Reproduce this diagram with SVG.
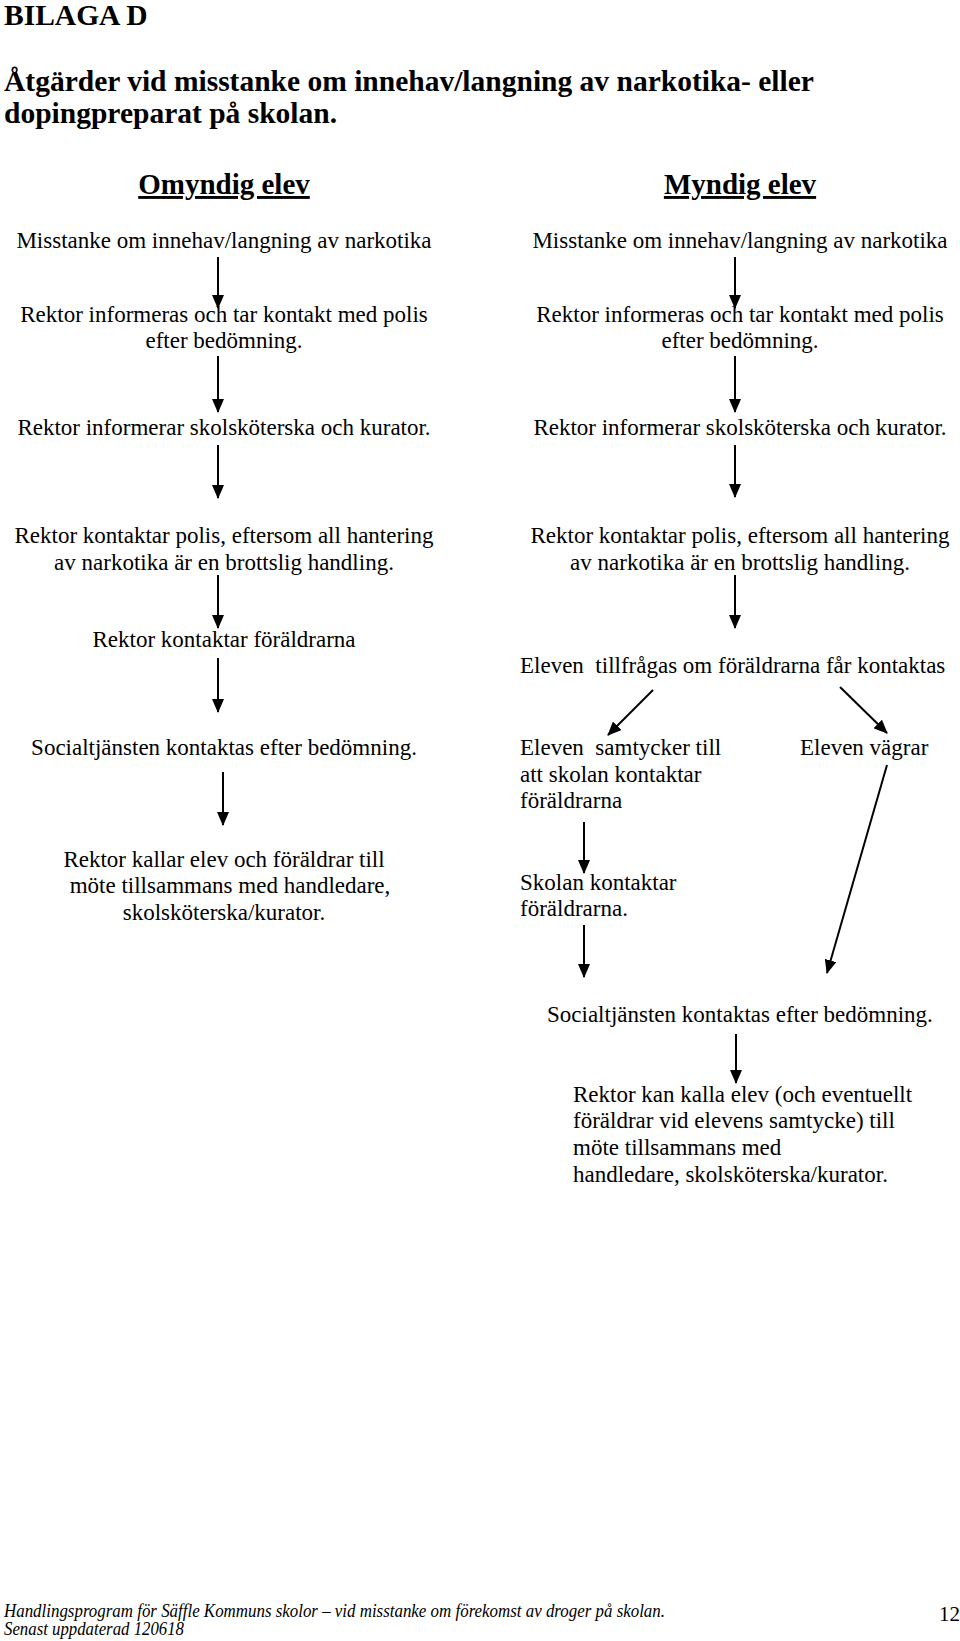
<svg xmlns="http://www.w3.org/2000/svg" width="960" height="1641" viewBox="0 0 960 1641">
<style>
  text { font-family: "Liberation Serif", "Times New Roman", serif; fill: #000; }
  .h { font-weight: bold; font-size: 29.5px; }
  .hc { font-weight: bold; font-size: 29px; }
  .u { text-decoration: underline; }
  .t { font-size: 23px; }
  .c { text-anchor: middle; }
  .f { font-size: 18px; font-style: italic; }
  .pg { font-size: 21px; }
  .conn line { stroke: #000; stroke-width: 2; marker-end: url(#ah); }
</style>
<defs>
  <marker id="ah" markerUnits="userSpaceOnUse" markerWidth="14" markerHeight="12" refX="13" refY="6" orient="auto" viewBox="0 0 14 12">
    <path d="M0,0 L14,6 L0,12 Z" fill="#000"/>
  </marker>
</defs>
<rect width="960" height="1641" fill="#fff"/>

<g id="header">
  <text class="h" x="4" y="25">BILAGA D</text>
  <text class="h" x="4" y="91">Åtgärder vid misstanke om innehav/langning av narkotika- eller</text>
  <text class="h" x="4" y="123">dopingpreparat på skolan.</text>
</g>

<g id="col-omyndig">
  <text class="hc u c" x="224" y="194">Omyndig elev</text>
</g>
<g id="col-myndig">
  <text class="hc u c" x="740" y="194">Myndig elev</text>
</g>

<!-- Left column nodes -->
<g id="L1"><text class="t c" x="224" y="248">Misstanke om innehav/langning av narkotika</text></g>
<g id="L2">
  <text class="t c" x="224" y="322">Rektor informeras och tar kontakt med polis</text>
  <text class="t c" x="224" y="348">efter bedömning.</text>
</g>
<g id="L3"><text class="t c" x="224" y="435">Rektor informerar skolsköterska och kurator.</text></g>
<g id="L4">
  <text class="t c" x="224" y="543">Rektor kontaktar polis, eftersom all hantering</text>
  <text class="t c" x="224" y="570">av narkotika är en brottslig handling.</text>
</g>
<g id="L5"><text class="t c" x="224" y="647">Rektor kontaktar föräldrarna</text></g>
<g id="L6"><text class="t c" x="224" y="755">Socialtjänsten kontaktas efter bedömning.</text></g>
<g id="L7">
  <text class="t c" x="224" y="867">Rektor kallar elev och föräldrar till</text>
  <text class="t c" x="230" y="893">möte tillsammans med handledare,</text>
  <text class="t c" x="224" y="920">skolsköterska/kurator.</text>
</g>

<!-- Right column nodes -->
<g id="R1"><text class="t c" x="740" y="248">Misstanke om innehav/langning av narkotika</text></g>
<g id="R2">
  <text class="t c" x="740" y="322">Rektor informeras och tar kontakt med polis</text>
  <text class="t c" x="740" y="348">efter bedömning.</text>
</g>
<g id="R3"><text class="t c" x="740" y="435">Rektor informerar skolsköterska och kurator.</text></g>
<g id="R4">
  <text class="t c" x="740" y="543">Rektor kontaktar polis, eftersom all hantering</text>
  <text class="t c" x="740" y="570">av narkotika är en brottslig handling.</text>
</g>
<g id="R5"><text class="t" x="520" y="673" xml:space="preserve">Eleven  tillfrågas om föräldrarna får kontaktas</text></g>
<g id="R6">
  <text class="t" x="520" y="755" xml:space="preserve">Eleven  samtycker till</text>
  <text class="t" x="520" y="782">att skolan kontaktar</text>
  <text class="t" x="520" y="808">föräldrarna</text>
</g>
<g id="R7"><text class="t" x="800" y="755">Eleven vägrar</text></g>
<g id="R8">
  <text class="t" x="520" y="890">Skolan kontaktar</text>
  <text class="t" x="520" y="916">föräldrarna.</text>
</g>
<g id="R9"><text class="t" x="547" y="1022">Socialtjänsten kontaktas efter bedömning.</text></g>
<g id="R10">
  <text class="t" x="573" y="1102">Rektor kan kalla elev (och eventuellt</text>
  <text class="t" x="573" y="1128">föräldrar vid elevens samtycke) till</text>
  <text class="t" x="573" y="1155">möte tillsammans med</text>
  <text class="t" x="573" y="1182">handledare, skolsköterska/kurator.</text>
</g>

<g id="connectors" class="conn">
  <line x1="218" y1="257" x2="218" y2="308"/>
  <line x1="218" y1="356" x2="218" y2="412"/>
  <line x1="218" y1="445" x2="218" y2="498"/>
  <line x1="218" y1="575" x2="218" y2="628"/>
  <line x1="218" y1="658" x2="218" y2="712"/>
  <line x1="223" y1="772" x2="223" y2="825"/>
  <line x1="735" y1="257" x2="735" y2="308"/>
  <line x1="735" y1="356" x2="735" y2="412"/>
  <line x1="735" y1="445" x2="735" y2="497"/>
  <line x1="735" y1="575" x2="735" y2="628"/>
  <line x1="653" y1="690" x2="608" y2="735"/>
  <line x1="840" y1="687" x2="887" y2="733"/>
  <line x1="584" y1="822" x2="584" y2="873"/>
  <line x1="584" y1="925" x2="584" y2="977"/>
  <line x1="887" y1="765" x2="827" y2="973"/>
  <line x1="736" y1="1034" x2="736" y2="1083"/>
</g>

<g id="footer">
  <text class="f" x="4" y="1617" textLength="661" lengthAdjust="spacingAndGlyphs">Handlingsprogram för Säffle Kommuns skolor – vid misstanke om förekomst av droger på skolan.</text>
  <text class="f" x="4" y="1635" textLength="180" lengthAdjust="spacingAndGlyphs">Senast uppdaterad 120618</text>
  <text class="pg" x="939" y="1621">12</text>
</g>
</svg>
